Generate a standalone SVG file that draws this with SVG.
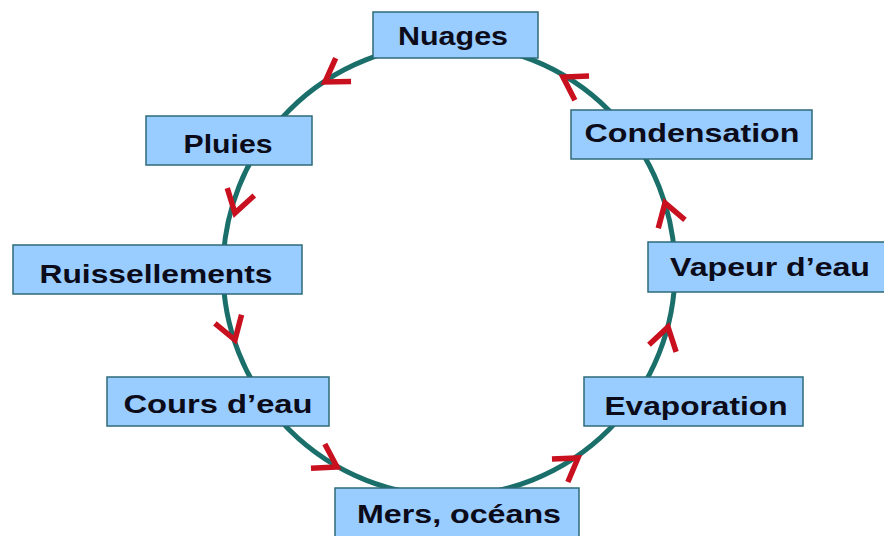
<svg xmlns="http://www.w3.org/2000/svg" xmlns:xlink="http://www.w3.org/1999/xlink" width="884" height="536" viewBox="0 0 884 536">
  <style>
    .box { fill: #99ccff; stroke: #2e6b78; stroke-width: 1.5; }
    .lbl { font-family: "Liberation Sans", Arial, sans-serif; font-weight: bold; font-size: 26px; fill: #0b0b1a; text-anchor: middle; }
    .cycle { fill: none; stroke: #1b6f6a; stroke-width: 5; }
    .head { fill: none; stroke: #c8101e; stroke-width: 5.5; stroke-linejoin: miter; }
  </style>
  <defs>
    <!-- open chevron pointing along +x, tip at the origin -->
    <path id="chev" class="head" d="M-22,-14 L0,0 L-22,14"/>
  </defs>

  <rect width="884" height="536" fill="#ffffff"/>

  <!-- water cycle loop with direction marks -->
  <g id="connectors">
    <ellipse class="cycle" cx="449" cy="270" rx="226" ry="226"/>
    <use xlink:href="#chev" transform="translate(325,82) rotate(146.7)"/>
    <use xlink:href="#chev" transform="translate(235,213) rotate(105.2)"/>
    <use xlink:href="#chev" transform="translate(235,340) rotate(72.1)"/>
    <use xlink:href="#chev" transform="translate(337,467) rotate(29.7)"/>
    <use xlink:href="#chev" transform="translate(578,458) rotate(-34.6)"/>
    <use xlink:href="#chev" transform="translate(668,327) rotate(-75.7)"/>
    <use xlink:href="#chev" transform="translate(665,203) rotate(-107.5)"/>
    <use xlink:href="#chev" transform="translate(563,77) rotate(-149.6)"/>
  </g>

  <g id="nuages">
    <rect class="box" x="373" y="12" width="165" height="46"/>
    <text class="lbl" x="453" y="45" textLength="110" lengthAdjust="spacingAndGlyphs">Nuages</text>
  </g>
  <g id="pluies">
    <rect class="box" x="146" y="116" width="166" height="49"/>
    <text class="lbl" x="228" y="153" textLength="89" lengthAdjust="spacingAndGlyphs">Pluies</text>
  </g>
  <g id="ruissellements">
    <rect class="box" x="13" y="245" width="289" height="49"/>
    <text class="lbl" x="156" y="283" textLength="233" lengthAdjust="spacingAndGlyphs">Ruissellements</text>
  </g>
  <g id="cours-eau">
    <rect class="box" x="107" y="377" width="222" height="49"/>
    <text class="lbl" x="218" y="413" textLength="189" lengthAdjust="spacingAndGlyphs">Cours d’eau</text>
  </g>
  <g id="mers-oceans">
    <rect class="box" x="335" y="488" width="244" height="52"/>
    <text class="lbl" x="459" y="523" textLength="204" lengthAdjust="spacingAndGlyphs">Mers, océans</text>
  </g>
  <g id="evaporation">
    <rect class="box" x="584" y="377" width="219" height="49"/>
    <text class="lbl" x="696" y="415" textLength="183" lengthAdjust="spacingAndGlyphs">Evaporation</text>
  </g>
  <g id="vapeur-eau">
    <rect class="box" x="648" y="242" width="240" height="50"/>
    <text class="lbl" x="770" y="276" textLength="200" lengthAdjust="spacingAndGlyphs">Vapeur d’eau</text>
  </g>
  <g id="condensation">
    <rect class="box" x="571" y="110" width="241" height="49"/>
    <text class="lbl" x="692" y="142" textLength="215" lengthAdjust="spacingAndGlyphs">Condensation</text>
  </g>
</svg>
